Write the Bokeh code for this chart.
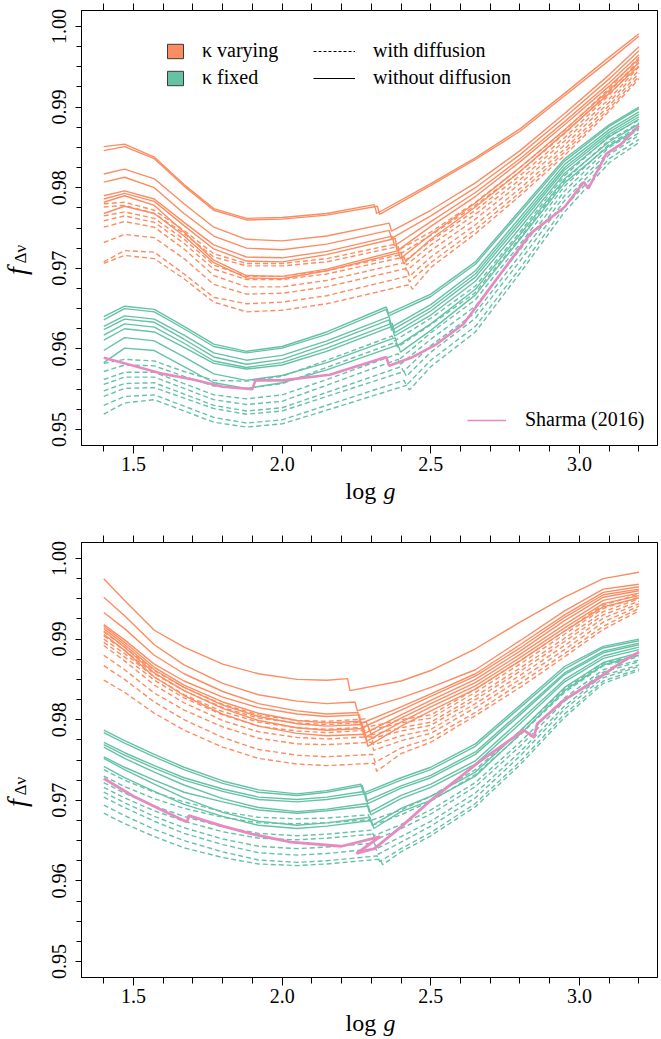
import math
from bokeh.plotting import figure
from bokeh.models import (Range1d, LinearAxis, FixedTicker, NumeralTickFormatter,
                          Legend, LegendItem, Label)
from bokeh.layouts import column
from bokeh.embed import file_html
from bokeh.resources import INLINE

ORANGE = "#fc8d62"
GREEN = "#66c2a5"
PINK = "#e78ac3"
SERIF = "Liberation Serif"
NAN = float("nan")

# ---------------- ticks / labels ----------------
X_MAJOR = [1.5, 2.0, 2.5, 3.0]
X_MINOR = [1.4, 1.5, 1.6, 1.7, 1.8, 1.9, 2.0, 2.1, 2.2, 2.3, 2.4, 2.5, 2.6, 2.7, 2.8, 2.9, 3.0, 3.1, 3.2]
Y_MAJOR = [0.95, 0.96, 0.97, 0.98, 0.99, 1.00]
Y_MINOR = [0.95, 0.9525, 0.955, 0.9575, 0.96, 0.9625, 0.965, 0.9675, 0.97, 0.9725, 0.975,
           0.9775, 0.98, 0.9825, 0.985, 0.9875, 0.99, 0.9925, 0.995, 0.9975, 1.0]
X_LABEL = ["log", "g"]
Y_LABEL = ["f", "Δν"]
LEGEND_COLOR_LABELS = ["κ varying", "κ fixed"]
LEGEND_STYLE_LABELS = ["with diffusion", "without diffusion"]
SHARMA_LABEL = "Sharma (2016)"

# ---------------- top panel data ----------------
# values at TOP_LEFT grid, then (before jump, after jump) at jump position, then TOP_RIGHT grid
TOP_LEFT = [1.40, 1.47, 1.57, 1.67, 1.77, 1.88, 2.00, 2.15]
TOP_RIGHT = [2.50, 2.65, 2.80, 2.95, 3.10, 3.20]

top_kvar_nodiff_jump = [2.31, 2.32, 2.36, 2.36, 2.37, 2.38, 2.39, 2.40]
top_kvar_nodiff = [
    [0.9851, 0.9854, 0.9838, 0.9804, 0.9774, 0.9762, 0.9763, 0.9768, 0.9779, 0.9768, 0.9805, 0.9837, 0.9873, 0.9917, 0.9962, 0.9991],
    [0.9846, 0.9851, 0.9836, 0.9802, 0.9772, 0.9760, 0.9761, 0.9766, 0.9777, 0.9767, 0.9803, 0.9835, 0.9870, 0.9914, 0.9958, 0.9988],
    [0.9817, 0.9823, 0.9811, 0.9780, 0.9751, 0.9736, 0.9734, 0.9740, 0.9756, 0.9746, 0.9772, 0.9806, 0.9846, 0.9892, 0.9940, 0.9975],
    [0.9807, 0.9813, 0.9800, 0.9768, 0.9740, 0.9725, 0.9723, 0.9730, 0.9747, 0.9737, 0.9765, 0.9800, 0.9841, 0.9887, 0.9935, 0.9970],
    [0.9790, 0.9796, 0.9786, 0.9757, 0.9729, 0.9714, 0.9713, 0.9721, 0.9740, 0.9728, 0.9758, 0.9794, 0.9836, 0.9882, 0.9930, 0.9965],
    [0.9786, 0.9793, 0.9783, 0.9753, 0.9724, 0.9709, 0.9708, 0.9717, 0.9737, 0.9722, 0.9752, 0.9789, 0.9832, 0.9878, 0.9926, 0.9960],
    [0.9782, 0.9790, 0.9778, 0.9745, 0.9710, 0.9691, 0.9690, 0.9699, 0.9722, 0.9712, 0.9742, 0.9781, 0.9825, 0.9872, 0.9921, 0.9955],
    [0.9768, 0.9777, 0.9768, 0.9740, 0.9707, 0.9688, 0.9687, 0.9697, 0.9720, 0.9706, 0.9736, 0.9776, 0.9820, 0.9868, 0.9917, 0.9951],
]

top_kvar_diff_jump = [2.38, 2.39, 2.40, 2.41, 2.41, 2.42, 2.42, 2.43]
top_kvar_diff = [
    [0.9780, 0.9782, 0.9772, 0.9747, 0.9718, 0.9706, 0.9706, 0.9712, 0.9730, 0.9722, 0.9745, 0.9782, 0.9825, 0.9871, 0.9923, 0.9962],
    [0.9776, 0.9778, 0.9768, 0.9743, 0.9714, 0.9703, 0.9703, 0.9708, 0.9727, 0.9718, 0.9741, 0.9778, 0.9820, 0.9867, 0.9919, 0.9958],
    [0.9765, 0.9770, 0.9762, 0.9736, 0.9704, 0.9690, 0.9690, 0.9697, 0.9717, 0.9708, 0.9734, 0.9772, 0.9815, 0.9862, 0.9915, 0.9955],
    [0.9759, 0.9765, 0.9757, 0.9731, 0.9699, 0.9686, 0.9686, 0.9693, 0.9714, 0.9704, 0.9729, 0.9767, 0.9810, 0.9858, 0.9910, 0.9950],
    [0.9751, 0.9758, 0.9751, 0.9724, 0.9691, 0.9677, 0.9677, 0.9685, 0.9707, 0.9697, 0.9722, 0.9761, 0.9805, 0.9853, 0.9906, 0.9946],
    [0.9732, 0.9742, 0.9738, 0.9712, 0.9680, 0.9668, 0.9669, 0.9677, 0.9700, 0.9690, 0.9714, 0.9754, 0.9799, 0.9848, 0.9902, 0.9942],
    [0.9708, 0.9722, 0.9720, 0.9693, 0.9664, 0.9656, 0.9658, 0.9666, 0.9690, 0.9683, 0.9707, 0.9748, 0.9794, 0.9844, 0.9898, 0.9938],
    [0.9706, 0.9716, 0.9712, 0.9687, 0.9658, 0.9646, 0.9648, 0.9656, 0.9680, 0.9674, 0.9701, 0.9743, 0.9790, 0.9840, 0.9895, 0.9935],
]

top_kfix_nodiff_jump = [2.35, 2.35, 2.36, 2.36, 2.37, 2.37, 2.38, 2.39]
top_kfix_nodiff = [
    [0.9640, 0.9653, 0.9649, 0.9628, 0.9606, 0.9597, 0.9603, 0.9621, 0.9652, 0.9644, 0.9668, 0.9708, 0.9772, 0.9836, 0.9878, 0.9900],
    [0.9636, 0.9650, 0.9646, 0.9625, 0.9603, 0.9595, 0.9601, 0.9618, 0.9649, 0.9641, 0.9665, 0.9705, 0.9769, 0.9833, 0.9876, 0.9898],
    [0.9628, 0.9641, 0.9637, 0.9617, 0.9595, 0.9586, 0.9592, 0.9610, 0.9640, 0.9627, 0.9655, 0.9697, 0.9763, 0.9829, 0.9872, 0.9894],
    [0.9624, 0.9637, 0.9633, 0.9612, 0.9590, 0.9581, 0.9587, 0.9606, 0.9636, 0.9623, 0.9651, 0.9693, 0.9759, 0.9825, 0.9869, 0.9891],
    [0.9617, 0.9631, 0.9627, 0.9607, 0.9585, 0.9577, 0.9583, 0.9601, 0.9632, 0.9620, 0.9647, 0.9689, 0.9755, 0.9822, 0.9866, 0.9888],
    [0.9611, 0.9625, 0.9621, 0.9602, 0.9582, 0.9575, 0.9580, 0.9597, 0.9628, 0.9616, 0.9642, 0.9684, 0.9750, 0.9818, 0.9863, 0.9885],
    [0.9598, 0.9614, 0.9610, 0.9590, 0.9569, 0.9561, 0.9567, 0.9583, 0.9614, 0.9604, 0.9631, 0.9674, 0.9742, 0.9811, 0.9857, 0.9879],
    [0.9583, 0.9601, 0.9598, 0.9578, 0.9558, 0.9551, 0.9558, 0.9574, 0.9605, 0.9596, 0.9623, 0.9667, 0.9736, 0.9806, 0.9852, 0.9874],
]

top_kfix_diff_jump = [2.37, 2.38, 2.39, 2.39, 2.40, 2.41, 2.41, 2.42]
top_kfix_diff = [
    [0.9582, 0.9587, 0.9585, 0.9572, 0.9561, 0.9560, 0.9566, 0.9586, 0.9616, 0.9610, 0.9638, 0.9678, 0.9745, 0.9815, 0.9864, 0.9884],
    [0.9572, 0.9580, 0.9579, 0.9566, 0.9554, 0.9551, 0.9557, 0.9577, 0.9608, 0.9602, 0.9630, 0.9670, 0.9738, 0.9809, 0.9859, 0.9880],
    [0.9562, 0.9571, 0.9571, 0.9557, 0.9543, 0.9538, 0.9543, 0.9562, 0.9594, 0.9588, 0.9620, 0.9661, 0.9730, 0.9802, 0.9854, 0.9876],
    [0.9556, 0.9565, 0.9565, 0.9551, 0.9537, 0.9531, 0.9535, 0.9555, 0.9587, 0.9581, 0.9612, 0.9653, 0.9723, 0.9796, 0.9850, 0.9872],
    [0.9548, 0.9557, 0.9558, 0.9544, 0.9530, 0.9523, 0.9527, 0.9546, 0.9578, 0.9572, 0.9604, 0.9645, 0.9716, 0.9790, 0.9845, 0.9868],
    [0.9541, 0.9551, 0.9552, 0.9539, 0.9526, 0.9519, 0.9523, 0.9541, 0.9572, 0.9566, 0.9596, 0.9638, 0.9709, 0.9784, 0.9841, 0.9865],
    [0.9530, 0.9541, 0.9543, 0.9529, 0.9515, 0.9508, 0.9512, 0.9530, 0.9561, 0.9555, 0.9586, 0.9628, 0.9700, 0.9776, 0.9836, 0.9860],
    [0.9519, 0.9533, 0.9537, 0.9523, 0.9509, 0.9503, 0.9507, 0.9524, 0.9555, 0.9549, 0.9578, 0.9621, 0.9694, 0.9770, 0.9831, 0.9856],
]

top_sharma_x = [1.40, 1.50, 1.60, 1.70, 1.80, 1.90, 1.91, 2.00, 2.16, 2.35, 2.36, 2.44, 2.52,
                2.61, 2.71, 2.835, 2.95, 3.015, 3.03, 3.09, 3.14, 3.20]
top_sharma_y = [0.9589, 0.9579, 0.9569, 0.9562, 0.9553, 0.9550, 0.9561, 0.9561, 0.9568, 0.9590, 0.9579, 0.9590, 0.9606,
                0.9631, 0.9681, 0.9743, 0.9776, 0.9807, 0.9799, 0.9842, 0.9854, 0.9877]

# ---------------- bottom panel data ----------------
BOT_LEFT = [1.40, 1.47, 1.57, 1.67, 1.80, 1.92, 2.05, 2.15]
BOT_RIGHT = [2.40, 2.50, 2.65, 2.80, 2.95, 3.08, 3.20]

bot_kvar_nodiff_jump = [2.22, 2.245, 2.255, 2.26, 2.265, 2.27, 2.275, 2.28]
bot_kvar_nodiff = [
    [0.9975, 0.9948, 0.9911, 0.9890, 0.9869, 0.9857, 0.9850, 0.9849, 0.9851, 0.9836, 0.9848, 0.9861, 0.9888, 0.9921, 0.9952, 0.9975, 0.9983],
    [0.9952, 0.9929, 0.9893, 0.9868, 0.9845, 0.9831, 0.9823, 0.9820, 0.9822, 0.9811, 0.9827, 0.9840, 0.9862, 0.9898, 0.9935, 0.9962, 0.9968],
    [0.9933, 0.9913, 0.9880, 0.9857, 0.9835, 0.9820, 0.9811, 0.9807, 0.9809, 0.9795, 0.9816, 0.9832, 0.9857, 0.9893, 0.9930, 0.9958, 0.9965],
    [0.9918, 0.9899, 0.9869, 0.9848, 0.9828, 0.9815, 0.9807, 0.9804, 0.9806, 0.9790, 0.9812, 0.9829, 0.9854, 0.9889, 0.9927, 0.9955, 0.9962],
    [0.9916, 0.9896, 0.9865, 0.9843, 0.9822, 0.9808, 0.9799, 0.9796, 0.9798, 0.9782, 0.9806, 0.9824, 0.9850, 0.9885, 0.9923, 0.9952, 0.9960],
    [0.9913, 0.9893, 0.9862, 0.9840, 0.9818, 0.9804, 0.9795, 0.9792, 0.9794, 0.9778, 0.9802, 0.9820, 0.9846, 0.9881, 0.9918, 0.9948, 0.9957],
    [0.9910, 0.9890, 0.9858, 0.9836, 0.9814, 0.9799, 0.9790, 0.9787, 0.9789, 0.9773, 0.9797, 0.9816, 0.9842, 0.9877, 0.9914, 0.9944, 0.9954],
    [0.9906, 0.9886, 0.9853, 0.9830, 0.9807, 0.9792, 0.9783, 0.9780, 0.9782, 0.9767, 0.9792, 0.9811, 0.9838, 0.9873, 0.9910, 0.9940, 0.9951],
]

bot_kvar_diff_jump = [2.28, 2.285, 2.29, 2.295, 2.30, 2.30, 2.305, 2.31]
bot_kvar_diff = [
    [0.9909, 0.9890, 0.9861, 0.9840, 0.9819, 0.9806, 0.9799, 0.9798, 0.9801, 0.9791, 0.9800, 0.9806, 0.9838, 0.9873, 0.9910, 0.9942, 0.9956],
    [0.9904, 0.9886, 0.9857, 0.9836, 0.9815, 0.9802, 0.9796, 0.9794, 0.9797, 0.9787, 0.9796, 0.9802, 0.9834, 0.9869, 0.9906, 0.9938, 0.9952],
    [0.9900, 0.9882, 0.9853, 0.9831, 0.9810, 0.9797, 0.9790, 0.9788, 0.9791, 0.9781, 0.9790, 0.9797, 0.9829, 0.9864, 0.9901, 0.9934, 0.9950],
    [0.9896, 0.9878, 0.9849, 0.9827, 0.9806, 0.9792, 0.9786, 0.9784, 0.9787, 0.9777, 0.9786, 0.9793, 0.9825, 0.9860, 0.9897, 0.9930, 0.9947],
    [0.9892, 0.9873, 0.9843, 0.9821, 0.9799, 0.9785, 0.9778, 0.9776, 0.9779, 0.9769, 0.9780, 0.9788, 0.9820, 0.9855, 0.9892, 0.9926, 0.9944],
    [0.9880, 0.9862, 0.9833, 0.9812, 0.9791, 0.9777, 0.9770, 0.9769, 0.9772, 0.9762, 0.9774, 0.9783, 0.9815, 0.9850, 0.9887, 0.9921, 0.9941],
    [0.9867, 0.9850, 0.9822, 0.9800, 0.9778, 0.9763, 0.9756, 0.9754, 0.9757, 0.9747, 0.9765, 0.9777, 0.9809, 0.9845, 0.9882, 0.9916, 0.9938],
    [0.9849, 0.9834, 0.9808, 0.9787, 0.9766, 0.9752, 0.9745, 0.9743, 0.9746, 0.9736, 0.9758, 0.9772, 0.9805, 0.9840, 0.9878, 0.9912, 0.9935],
]

bot_kfix_nodiff_jump = [2.265, 2.27, 2.275, 2.28, 2.285, 2.29, 2.295, 2.30]
bot_kfix_nodiff = [
    [0.9787, 0.9774, 0.9757, 0.9741, 0.9724, 0.9713, 0.9708, 0.9712, 0.9720, 0.9709, 0.9728, 0.9741, 0.9770, 0.9818, 0.9866, 0.9891, 0.9900],
    [0.9784, 0.9771, 0.9754, 0.9738, 0.9721, 0.9710, 0.9706, 0.9710, 0.9718, 0.9707, 0.9725, 0.9738, 0.9767, 0.9815, 0.9863, 0.9889, 0.9898],
    [0.9772, 0.9759, 0.9743, 0.9728, 0.9714, 0.9704, 0.9701, 0.9704, 0.9711, 0.9699, 0.9718, 0.9731, 0.9760, 0.9809, 0.9858, 0.9885, 0.9895],
    [0.9769, 0.9756, 0.9740, 0.9725, 0.9711, 0.9701, 0.9698, 0.9701, 0.9708, 0.9696, 0.9715, 0.9728, 0.9757, 0.9806, 0.9856, 0.9883, 0.9893],
    [0.9766, 0.9752, 0.9735, 0.9719, 0.9702, 0.9691, 0.9686, 0.9689, 0.9696, 0.9685, 0.9706, 0.9720, 0.9749, 0.9799, 0.9850, 0.9879, 0.9890],
    [0.9754, 0.9741, 0.9725, 0.9710, 0.9698, 0.9688, 0.9684, 0.9687, 0.9693, 0.9682, 0.9702, 0.9716, 0.9745, 0.9795, 0.9847, 0.9876, 0.9887],
    [0.9752, 0.9738, 0.9720, 0.9703, 0.9685, 0.9674, 0.9669, 0.9672, 0.9679, 0.9669, 0.9690, 0.9705, 0.9735, 0.9786, 0.9840, 0.9871, 0.9883],
    [0.9742, 0.9728, 0.9711, 0.9695, 0.9680, 0.9669, 0.9665, 0.9668, 0.9675, 0.9665, 0.9686, 0.9700, 0.9730, 0.9782, 0.9836, 0.9868, 0.9880],
]

bot_kfix_diff_jump = [2.29, 2.295, 2.30, 2.305, 2.31, 2.315, 2.32, 2.33]
bot_kfix_diff = [
    [0.9738, 0.9725, 0.9710, 0.9698, 0.9686, 0.9679, 0.9677, 0.9678, 0.9682, 0.9675, 0.9688, 0.9705, 0.9738, 0.9786, 0.9838, 0.9870, 0.9880],
    [0.9730, 0.9717, 0.9702, 0.9690, 0.9679, 0.9672, 0.9671, 0.9672, 0.9676, 0.9669, 0.9682, 0.9699, 0.9732, 0.9781, 0.9834, 0.9867, 0.9878],
    [0.9722, 0.9709, 0.9693, 0.9680, 0.9667, 0.9659, 0.9656, 0.9658, 0.9663, 0.9656, 0.9670, 0.9688, 0.9722, 0.9772, 0.9827, 0.9862, 0.9874],
    [0.9716, 0.9703, 0.9687, 0.9674, 0.9661, 0.9653, 0.9651, 0.9653, 0.9658, 0.9651, 0.9665, 0.9683, 0.9717, 0.9767, 0.9823, 0.9859, 0.9872],
    [0.9710, 0.9697, 0.9680, 0.9666, 0.9652, 0.9643, 0.9640, 0.9642, 0.9647, 0.9640, 0.9655, 0.9674, 0.9709, 0.9760, 0.9817, 0.9855, 0.9868],
    [0.9704, 0.9691, 0.9674, 0.9659, 0.9645, 0.9635, 0.9632, 0.9634, 0.9640, 0.9633, 0.9648, 0.9668, 0.9703, 0.9755, 0.9813, 0.9852, 0.9866],
    [0.9694, 0.9681, 0.9664, 0.9650, 0.9636, 0.9626, 0.9623, 0.9625, 0.9631, 0.9624, 0.9640, 0.9660, 0.9696, 0.9748, 0.9807, 0.9848, 0.9863],
    [0.9684, 0.9671, 0.9655, 0.9641, 0.9629, 0.9621, 0.9619, 0.9621, 0.9627, 0.9620, 0.9636, 0.9656, 0.9692, 0.9744, 0.9803, 0.9845, 0.9861],
]

bot_sharma_x = [1.40, 1.50, 1.60, 1.68, 1.686, 1.80, 1.90, 2.03, 2.20, 2.33, 2.25, 2.31, 2.40, 2.50,
                2.667, 2.813, 2.847, 2.858, 2.947, 3.05, 3.116, 3.149, 3.20]
bot_sharma_y = [0.9727, 0.9705, 0.9687, 0.9673, 0.9681, 0.9668, 0.9658, 0.9648, 0.9643, 0.9655, 0.9634, 0.9640, 0.9667, 0.9700,
                0.9749, 0.9787, 0.9778, 0.9795, 0.9824, 0.9848, 0.9865, 0.9873, 0.9884]

JUMP_WIDTH = 0.008
X_RANGE = (1.3251, 3.2625)
Y_RANGE = (0.948015, 1.001985)


def build_xs(left, right, jumps):
    return [left + [xj, xj + JUMP_WIDTH] + right for xj in jumps]


def make_panel(height, top_border, bottom_border):
    p = figure(width=659, height=height,
               x_range=Range1d(*X_RANGE), y_range=Range1d(*Y_RANGE),
               output_backend="svg", toolbar_location=None,
               min_border_left=81, min_border_right=2, min_border_top=top_border,
               min_border_bottom=bottom_border,
               background_fill_color="white", border_fill_color="white")
    p.grid.grid_line_color = None
    p.outline_line_color = "black"
    p.outline_line_width = 1
    p.outline_line_alpha = 1

    xa = p.xaxis[0]
    xa.ticker = FixedTicker(ticks=X_MAJOR, minor_ticks=X_MINOR)
    xa.formatter = NumeralTickFormatter(format="0.0")
    xa.major_tick_out = 8
    xa.major_tick_in = 0
    xa.minor_tick_out = 6
    xa.minor_tick_in = 0
    xa.major_tick_line_color = "black"
    xa.minor_tick_line_color = "black"
    xa.axis_line_color = "black"
    xa.major_label_text_font = SERIF
    xa.major_label_text_font_size = "20px"
    xa.major_label_text_color = "black"
    xa.major_label_standoff = 3

    ya = p.yaxis[0]
    ya.ticker = FixedTicker(ticks=Y_MAJOR, minor_ticks=Y_MINOR)
    ya.formatter = NumeralTickFormatter(format="0.00")
    ya.major_tick_out = 6
    ya.major_tick_in = 0
    ya.minor_tick_out = 5
    ya.minor_tick_in = 0
    ya.major_tick_line_color = "black"
    ya.minor_tick_line_color = "black"
    ya.axis_line_color = "black"
    ya.major_label_text_font = SERIF
    ya.major_label_text_font_size = "20px"
    ya.major_label_text_color = "black"
    ya.major_label_orientation = "vertical"
    ya.major_label_standoff = 9

    # mirrored tick marks on the top edge (no labels)
    top = LinearAxis(ticker=FixedTicker(ticks=[], minor_ticks=X_MINOR),
                     major_tick_out=7, major_tick_in=0, minor_tick_out=7, minor_tick_in=0,
                     major_label_text_font_size="0px", major_label_standoff=0,
                     axis_line_color="black", major_tick_line_color="black",
                     minor_tick_line_color="black")
    p.add_layout(top, "above")
    return p


def add_axis_titles(p, f_place):
    # placed in the side panels so that they are not clipped by the frame
    p.add_layout(Label(x=2.2131, y=0.94243, text=X_LABEL[0],
                       text_font=SERIF, text_font_size="24px", text_color="black",
                       text_align="left", text_baseline="alphabetic"), "below")
    p.add_layout(Label(x=2.3409, y=0.94243, text=X_LABEL[1],
                       text_font=SERIF, text_font_size="24px", text_font_style="italic",
                       text_color="black", text_align="left", text_baseline="alphabetic"), "left")
    p.add_layout(Label(x=1.1064, y=0.96917, text=Y_LABEL[0], angle=math.pi / 2,
                       text_font=SERIF, text_font_size="28px", text_font_style="italic",
                       text_color="black", text_align="left", text_baseline="alphabetic"), f_place)
    p.add_layout(Label(x=1.1200, y=0.97060, text=Y_LABEL[1], angle=math.pi / 2,
                       text_font=SERIF, text_font_size="17px",
                       text_color="black", text_align="left", text_baseline="alphabetic"), "left")


def draw_groups(p, left, right, groups):
    for ys, jumps, color, dash in groups:
        xs = build_xs(left, right, jumps)
        p.multi_line(xs=xs, ys=ys, line_color=color, line_width=1.4, line_dash=dash)


DASH = "5 3"

# ---------------- top panel ----------------
p1 = make_panel(516, 10, 71)
draw_groups(p1, TOP_LEFT, TOP_RIGHT, [
    (top_kvar_diff, top_kvar_diff_jump, ORANGE, DASH),
    (top_kvar_nodiff, top_kvar_nodiff_jump, ORANGE, "solid"),
    (top_kfix_diff, top_kfix_diff_jump, GREEN, DASH),
    (top_kfix_nodiff, top_kfix_nodiff_jump, GREEN, "solid"),
])
p1.line(top_sharma_x, top_sharma_y, line_color=PINK, line_width=2.6)
add_axis_titles(p1, "below")

# legend proxies (no visible data)
r_or = p1.quad(left=[NAN], right=[NAN], top=[NAN], bottom=[NAN], fill_color=ORANGE,
               line_color="#3a3a3a", line_width=1)
r_gr = p1.quad(left=[NAN], right=[NAN], top=[NAN], bottom=[NAN], fill_color=GREEN,
               line_color="#3a3a3a", line_width=1)
r_da = p1.line(x=[NAN, NAN], y=[NAN, NAN], line_color="black", line_width=1, line_dash="3 2")
r_so = p1.line(x=[NAN, NAN], y=[NAN, NAN], line_color="black", line_width=1)
r_sh = p1.line(x=[NAN, NAN], y=[NAN, NAN], line_color=PINK, line_width=1.5)

common = dict(padding=0, margin=0, border_line_color=None, background_fill_alpha=0,
              label_text_font=SERIF, label_text_font_size="20px", label_text_color="black",
              label_height=22, spacing=4)
leg1 = Legend(items=[LegendItem(label=LEGEND_COLOR_LABELS[0], renderers=[r_or]),
                     LegendItem(label=LEGEND_COLOR_LABELS[1], renderers=[r_gr])],
              location=(84, 356), glyph_width=20, glyph_height=18, label_standoff=17, **common)
leg2 = Legend(items=[LegendItem(label=LEGEND_STYLE_LABELS[0], renderers=[r_da]),
                     LegendItem(label=LEGEND_STYLE_LABELS[1], renderers=[r_so])],
              location=(232, 356), glyph_width=42, glyph_height=22, label_standoff=18, **common)
leg3 = Legend(items=[LegendItem(label=SHARMA_LABEL, renderers=[r_sh])],
              location=(386, 14), glyph_width=39, glyph_height=22, label_standoff=19, **common)
p1.add_layout(leg1)
p1.add_layout(leg2)
p1.add_layout(leg3)

# ---------------- bottom panel ----------------
p2 = make_panel(523, 26, 62)
draw_groups(p2, BOT_LEFT, BOT_RIGHT, [
    (bot_kvar_diff, bot_kvar_diff_jump, ORANGE, DASH),
    (bot_kvar_nodiff, bot_kvar_nodiff_jump, ORANGE, "solid"),
    (bot_kfix_diff, bot_kfix_diff_jump, GREEN, DASH),
    (bot_kfix_nodiff, bot_kfix_nodiff_jump, GREEN, "solid"),
])
p2.line(bot_sharma_x, bot_sharma_y, line_color=PINK, line_width=2.8)
add_axis_titles(p2, "above")

layout = column(p1, p2)
open("out.html", "w").write(file_html(layout, INLINE))
